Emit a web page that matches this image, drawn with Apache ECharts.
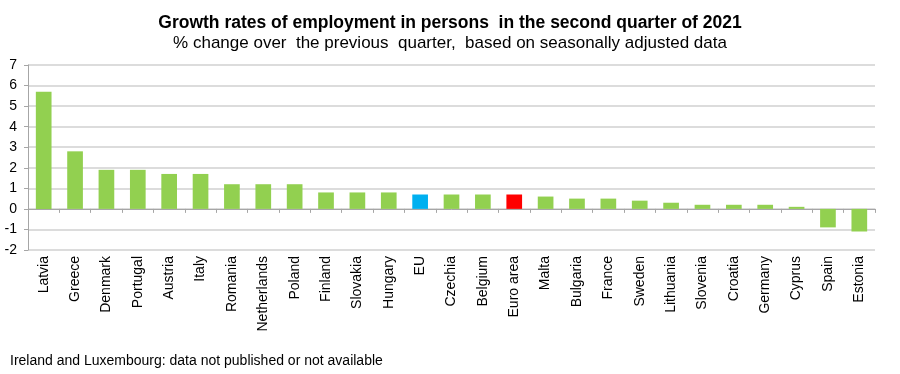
<!DOCTYPE html>
<html><head><meta charset="utf-8">
<script src="https://cdn.jsdelivr.net/npm/echarts@6/dist/echarts.min.js"></script>
<style>html,body{margin:0;padding:0;background:#fff}#c{width:900px;height:374px}</style>
</head><body><div id="c"></div>
<script>
const categories = ["Latvia","Greece","Denmark","Portugal","Austria","Italy","Romania","Netherlands","Poland","Finland","Slovakia","Hungary","EU","Czechia","Belgium","Euro area","Malta","Bulgaria","France","Sweden","Lithuania","Slovenia","Croatia","Germany","Cyprus","Spain","Estonia"];
const values = [5.7,2.8,1.9,1.9,1.7,1.7,1.2,1.2,1.2,0.8,0.8,0.8,0.7,0.7,0.7,0.7,0.6,0.5,0.5,0.4,0.3,0.2,0.2,0.2,0.1,-0.9,-1.1];
const yTicks = [-2,-1,0,1,2,3,4,5,6,7];
const titleText = "Growth rates of employment in persons  in the second quarter of 2021";
const subtitleText = "% change over  the previous  quarter,  based on seasonally adjusted data";
const footnote = "Ireland and Luxembourg: data not published or not available";
const colorOf = c => c === "EU" ? "#00b0f0" : (c === "Euro area" ? "#ff0000" : "#92d050");
const chart = echarts.init(document.getElementById('c'));
chart.setOption({
  animation:false,
  textStyle:{fontFamily:'Liberation Sans'},
  title:[{text:titleText, left:'center', top:9, textStyle:{fontFamily:'Liberation Sans',fontSize:17.5,fontWeight:'bold',color:'#000'}},
         {text:subtitleText, left:'center', top:30, textStyle:{fontFamily:'Liberation Sans',fontSize:17,fontWeight:'normal',color:'#000'}},
         {text:footnote, left:5, top:349, textStyle:{fontFamily:'Liberation Sans',fontSize:14,fontWeight:'normal',color:'#000'}}],
  grid:{left:28,right:25,top:65,bottom:124},
  xAxis:[{type:'category',data:categories,position:'bottom',axisLine:{show:false,onZero:false},axisTick:{show:false},
          axisLabel:{rotate:90,interval:0,margin:6,fontSize:14,color:'#000',fontFamily:'Liberation Sans'}},
         {type:'category',data:categories,position:'top',axisLine:{show:true,onZero:true,lineStyle:{color:'#a6a6a6',width:1}},
          axisTick:{show:true,inside:true,interval:0,length:4,lineStyle:{color:'#a6a6a6'}},axisLabel:{show:false}}],
  yAxis:{type:'value',min:-2,max:7,interval:1,
         axisLine:{show:true,lineStyle:{color:'#a6a6a6'}},axisTick:{show:true,length:4,lineStyle:{color:'#a6a6a6'}},
         axisLabel:{fontSize:14,color:'#000',margin:11,fontFamily:'Liberation Sans',formatter:v=>yTicks.includes(v)?String(v):''},
         splitLine:{lineStyle:{color:'#d0d0d0',width:1.5}}},
  series:[{type:'bar',xAxisIndex:0,barCategoryGap:'50%',
           data:values.map((v,i)=>({value:v,itemStyle:{color:colorOf(categories[i])}}))}]
});
</script></body></html>
